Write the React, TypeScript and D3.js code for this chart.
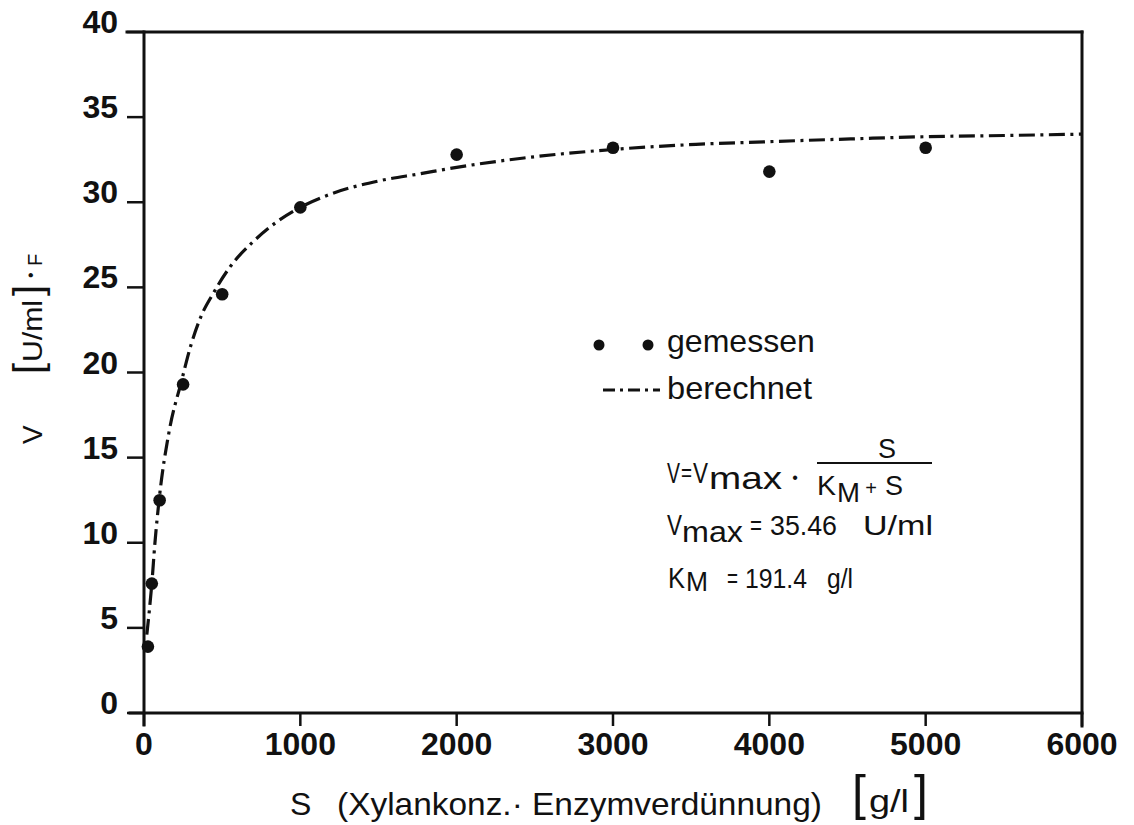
import React from 'react';
import * as d3 from 'd3';

const xTicks = [0, 1000, 2000, 3000, 4000, 5000, 6000];
const yTicks = [0, 5, 10, 15, 20, 25, 30, 35, 40];

// gemessen (measured points)
const measuredS = [25, 50, 100, 250, 500, 1000, 2000, 3000, 4000, 5000];
const measuredV = [3.9, 7.6, 12.5, 19.3, 24.6, 29.7, 32.8, 33.2, 31.8, 33.2];

// berechnet (fitted curve)
const fitS = [18, 50, 70, 100, 160, 240, 300, 365, 440, 550, 700, 850, 1000, 1170, 1500, 1770, 2000, 2430, 3000, 3530, 3970, 4520, 5000, 5500, 6000];
const fitV = [4.6, 7.6, 10.0, 12.8, 16.5, 19.5, 21.6, 23.3, 24.6, 26.2, 27.7, 28.85, 29.7, 30.4, 31.25, 31.68, 32.05, 32.6, 33.1, 33.4, 33.55, 33.72, 33.85, 33.92, 34.0];

const legendLabels = ['gemessen', 'berechnet'];
const xTitleVar = 'S';
const xTitleText = '(Xylankonz.· Enzymverdünnung)';
const xTitleUnit = 'g/l';
const yTitleVar = 'V';
const yTitleUnit = 'U/ml';
const yTitleFactor = 'F';
const vmaxText = '35.46';
const vmaxUnit = 'U/ml';
const kmText = '191.4';
const kmUnit = 'g/l';

const FONT = '"Liberation Sans", Arial, Helvetica, sans-serif';
const DASH = '16 5.5 3 5.5';

let ctx: CanvasRenderingContext2D | null = null;
function measure(text: string, fs: number, weight = 'normal'): number {
  if (!ctx && typeof document !== 'undefined') ctx = document.createElement('canvas').getContext('2d');
  if (!ctx) return text.length * fs * 0.55;
  ctx.font = `${weight} ${fs}px "Liberation Sans", Arial, sans-serif`;
  return ctx.measureText(text).width || text.length * fs * 0.55;
}

// text squeezed / stretched horizontally only, to a given width
function Fit(props: { x: number; y: number; fs: number; w: number; text: string }) {
  const { x, y, fs, w, text } = props;
  const s = w / measure(text, fs);
  return (
    <text transform={`translate(${x},${y}) scale(${s},1)`} fontSize={fs} fill="#111">
      {text}
    </text>
  );
}

export default function App() {
  const x = d3.scaleLinear().domain([0, 6000]).range([144, 1082]);
  const y = d3.scaleLinear().domain([0, 40]).range([713, 32]);
  const line = d3
    .line<number>()
    .x((_, i) => x(fitS[i]))
    .y((d) => y(d))
    .curve(d3.curveMonotoneX);
  const fitPath = line(fitV) || '';

  const x0 = x(0);
  const x1 = x(6000);
  const yTop = y(40);
  const yBot = y(0);

  return (
    <div style={{ position: 'absolute', left: 0, top: 0 }}>
      <svg width={1134} height={825} style={{ display: 'block', background: '#fff' }} fontFamily={FONT}>
        {/* frame */}
        <g stroke="#111" fill="none" strokeLinecap="square">
          <line x1={127} x2={x1} y1={yTop} y2={yTop} strokeWidth={3} />
          <line x1={x1} x2={x1} y1={yTop} y2={yBot + 13} strokeWidth={3} />
          <line x1={x0} x2={x0} y1={yTop} y2={yBot + 12} strokeWidth={3} />
          <line x1={130} x2={x1} y1={yBot} y2={yBot} strokeWidth={3} />
        </g>
        {/* y ticks */}
        <g>
          {yTicks.map((t) => (
            <g key={'y' + t}>
              <line x1={127} x2={x0} y1={y(t)} y2={y(t)} stroke="#111" strokeWidth={2.5} />
              <text x={118} y={y(t) + 1} textAnchor="end" fontSize={32} fontWeight="bold" fill="#111">
                {t}
              </text>
            </g>
          ))}
        </g>
        {/* x ticks */}
        <g>
          {xTicks.map((t) => (
            <g key={'x' + t}>
              <line x1={x(t)} x2={x(t)} y1={yBot} y2={yBot + 13} stroke="#111" strokeWidth={2.5} />
              <text x={x(t)} y={755} textAnchor="middle" fontSize={32} fontWeight="bold" fill="#111">
                {t}
              </text>
            </g>
          ))}
        </g>

        {/* fitted curve */}
        <path d={fitPath} fill="none" stroke="#111" strokeWidth={3.2} strokeDasharray={DASH} />

        {/* measured points */}
        {measuredS.map((s, i) => (
          <circle key={'p' + i} cx={x(s)} cy={y(measuredV[i])} r={6.3} fill="#111" />
        ))}

        {/* legend */}
        <circle cx={599} cy={345} r={5.5} fill="#111" />
        <circle cx={648} cy={345} r={5.5} fill="#111" />
        <Fit x={667} y={352} fs={32} w={148} text={legendLabels[0]} />
        <line x1={603} x2={660} y1={390} y2={390} stroke="#111" strokeWidth={3} strokeDasharray="12 5 3 5" />
        <Fit x={667} y={399} fs={32} w={145} text={legendLabels[1]} />

        {/* formula */}
        <Fit x={667} y={483} fs={30} w={13} text="V" />
        <Fit x={681} y={481} fs={26} w={11} text="=" />
        <Fit x={693} y={483} fs={30} w={15} text="V" />
        <Fit x={709} y={489} fs={31} w={73} text="max" />
        <text x={795} y={483} textAnchor="middle" fontSize={16} fill="#111">•</text>
        <line x1={817} x2={932} y1={463} y2={463} stroke="#111" strokeWidth={2} />
        <text x={887} y={458} textAnchor="middle" fontSize={27} fill="#111">S</text>
        <Fit x={817} y={495} fs={28} w={19} text="K" />
        <Fit x={837} y={502} fs={27} w={23} text="M" />
        <text x={871} y={495} textAnchor="middle" fontSize={20} fill="#111">+</text>
        <Fit x={885} y={495} fs={28} w={18} text="S" />

        <Fit x={667} y={535} fs={29} w={15} text="V" />
        <Fit x={682} y={542} fs={30} w={61} text="max" />
        <Fit x={750} y={535} fs={27} w={12} text="=" />
        <Fit x={770} y={535} fs={27} w={67} text={vmaxText} />
        <Fit x={863} y={535} fs={27} w={70} text={vmaxUnit} />

        <Fit x={668} y={588} fs={29} w={17} text="K" />
        <Fit x={686} y={591} fs={27} w={22} text="M" />
        <Fit x={727} y={588} fs={27} w={11} text="=" />
        <Fit x={745} y={588} fs={27} w={62} text={kmText} />
        <Fit x={827} y={588} fs={27} w={26} text={kmUnit} />

        {/* x title */}
        <g fill="#111">
          <text x={290} y={815} fontSize={32}>{xTitleVar}</text>
          <Fit x={337} y={815} fs={32} w={485} text={xTitleText} />
          <text x={852} y={810} fontSize={50} fontWeight="300">[</text>
          <Fit x={869} y={812} fs={32} w={40} text={xTitleUnit} />
          <text x={914} y={810} fontSize={50} fontWeight="300">]</text>
        </g>

        {/* y title */}
        <g fill="#111" transform="translate(42,0)">
          <text transform="translate(0,444) rotate(-90)" fontSize={28}>{yTitleVar}</text>
          <text transform="translate(0,374) rotate(-90)" fontSize={40}>[</text>
          <text transform="translate(0,362) rotate(-90)" fontSize={28} textLength={62} lengthAdjust="spacingAndGlyphs">{yTitleUnit}</text>
          <text transform="translate(0,296) rotate(-90)" fontSize={40}>]</text>
          <text transform="translate(-6,278) rotate(-90)" fontSize={16}>•</text>
          <text transform="translate(0,266) rotate(-90)" fontSize={20}>{yTitleFactor}</text>
        </g>
      </svg>
    </div>
  );
}
